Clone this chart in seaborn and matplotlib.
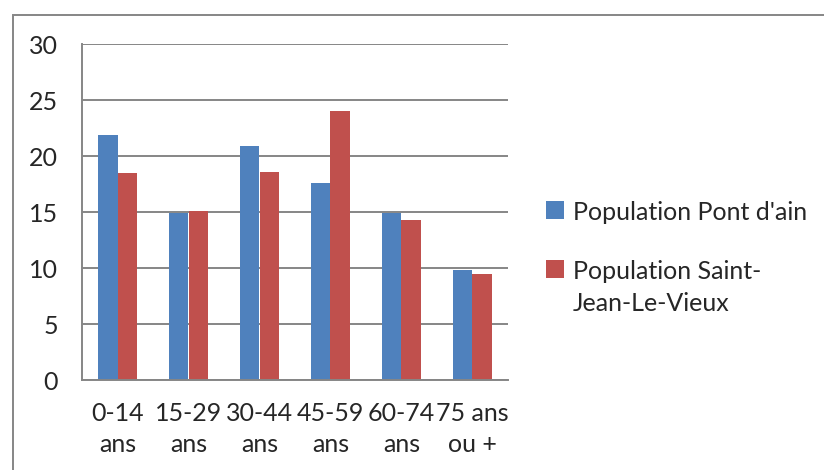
import matplotlib
matplotlib.use("Agg")
import matplotlib.pyplot as plt
from matplotlib.patches import Rectangle
import seaborn as sns
import pandas as pd

# Population share by age band (%)
age_groups = ["0-14\nans", "15-29\nans", "30-44\nans", "45-59\nans", "60-74\nans", "75 ans\nou +"]
pont_dain = [21.9, 14.9, 20.9, 17.6, 14.9, 9.8]
saint_jean = [18.5, 15.1, 18.6, 24.0, 14.3, 9.5]
series_names = ["Population Pont d'ain", "Population Saint-\nJean-Le-Vieux"]
y_ticks = [0, 5, 10, 15, 20, 25, 30]

colors = ["#4F81BD", "#C0504D"]
grid_color = "#868686"
FS = 18

df = pd.DataFrame({
    "age": age_groups * 2,
    "value": pont_dain + saint_jean,
    "series": [series_names[0]] * len(age_groups) + [series_names[1]] * len(age_groups),
})

sns.set_style("white")
plt.rcParams["font.family"] = ["Lato", "DejaVu Sans"]

W, H = 824, 470
fig = plt.figure(figsize=(W / 100, H / 100), dpi=100)
ax = fig.add_axes([82 / W, 1 - 380 / H, (508 - 82) / W, (380 - 44) / H])

sns.barplot(data=df, x="age", y="value", hue="series", palette=colors,
            width=0.563, gap=0, saturation=1, ax=ax, legend=False,
            edgecolor="none")

ax.set_ylim(0, 30)
ax.set_xlim(-0.5, len(age_groups) - 0.5)
ax.set_yticks(y_ticks)
ax.set_yticklabels([str(v) for v in y_ticks])
ax.yaxis.grid(True, color=grid_color, linewidth=1.4)
ax.set_axisbelow(True)

# category boundaries carry the tick marks, names sit between them
ax.set_xticks([i - 0.5 for i in range(len(age_groups) + 1)])
ax.set_xticklabels([])
ax.set_xticks(range(len(age_groups)), minor=True)
ax.set_xticklabels(age_groups, minor=True, fontsize=FS, linespacing=1.4)
ax.tick_params(axis="x", which="major", length=5, width=1.4, color=grid_color, direction="out")
ax.tick_params(axis="x", which="minor", length=0, pad=16)
ax.tick_params(axis="y", length=6.5, width=1.4, color=grid_color, direction="out",
               labelsize=FS, pad=11)
ax.set_xlabel("")
ax.set_ylabel("")

for side in ["top", "right"]:
    ax.spines[side].set_visible(False)
for side in ["left", "bottom"]:
    ax.spines[side].set_color(grid_color)
    ax.spines[side].set_linewidth(1.4)

# legend on the right
handles = [Rectangle((0, 0), 1, 1, facecolor=c, edgecolor="none") for c in colors]
leg = fig.legend(handles, series_names, loc="upper left",
                 bbox_to_anchor=(546 / W, 1 - 201 / H), frameon=False,
                 fontsize=FS, handlelength=0.72, handleheight=0.72,
                 handletextpad=0.35, labelspacing=1.45, borderpad=0, borderaxespad=0)
for t in leg.get_texts():
    t.set_linespacing(1.45)
# keep each colour square level with the first line of its label
for column in leg._legend_handle_box.get_children():
    for item in column.get_children():
        item.align = "top"

# outer chart frame
fig.patches.append(Rectangle((13 / W, -0.1), 1.2, 1 - 15 / H + 0.1,
                             transform=fig.transFigure, fill=False,
                             edgecolor=grid_color, linewidth=1.4))

fig.savefig("out.png", dpi=100)
